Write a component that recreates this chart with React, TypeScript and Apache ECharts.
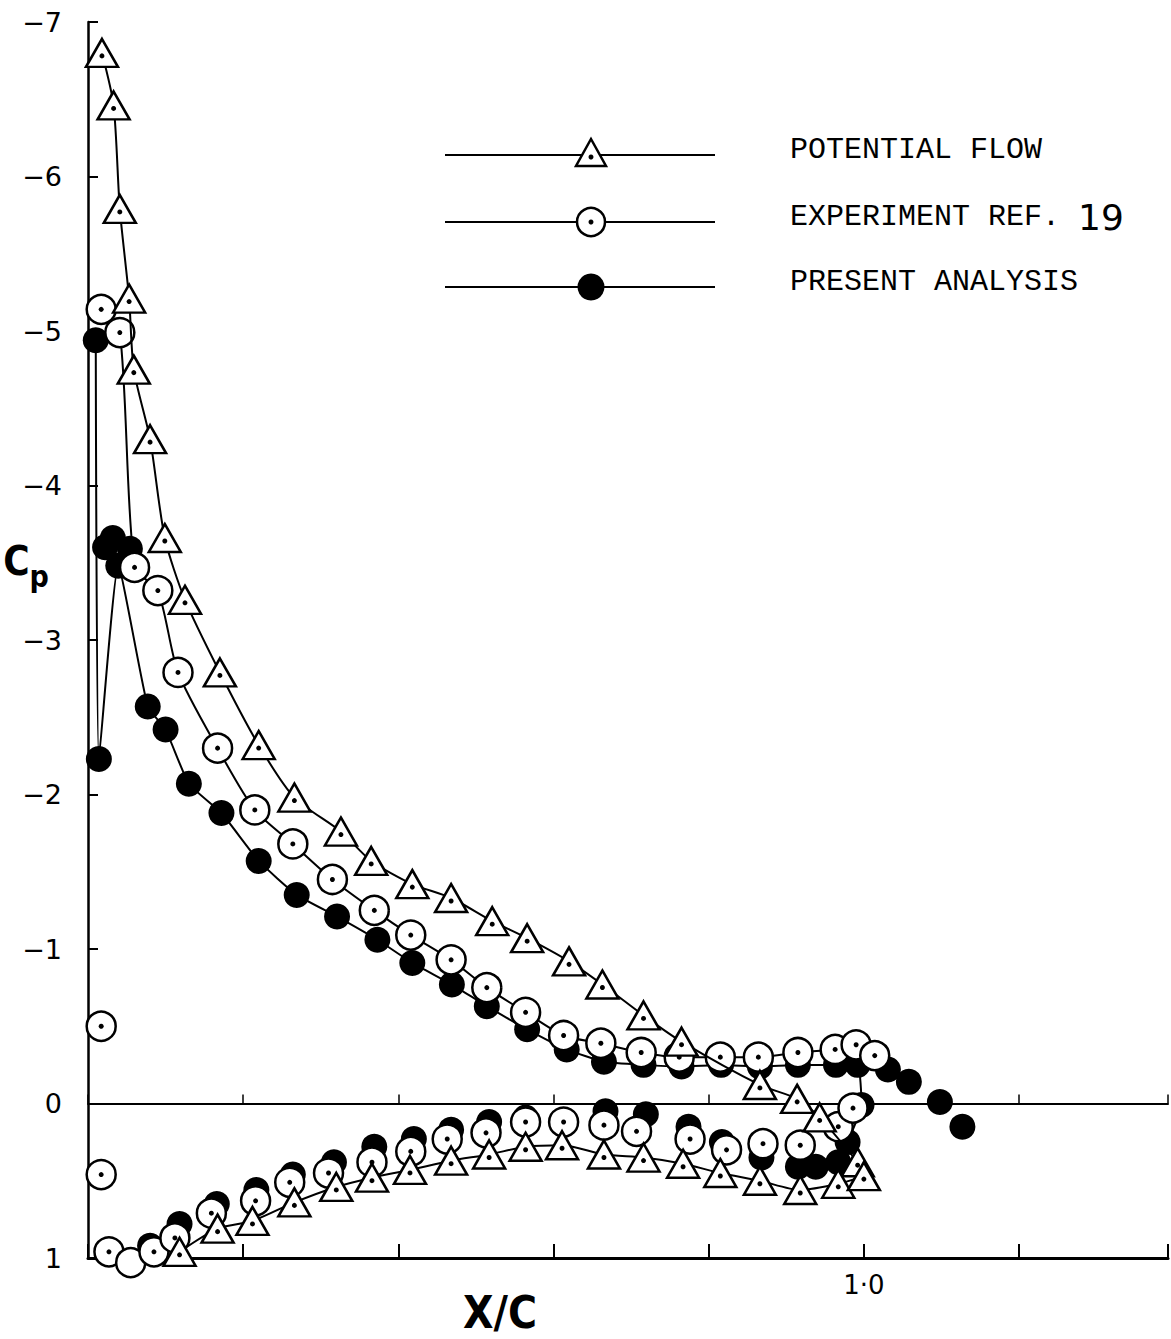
import React, { useEffect, useRef } from "react";
import * as echarts from "echarts";

// ---- data: [x/c, Cp] ----
const potentialUpper: number[][] = [
  [0.018, -6.8], [0.033, -6.46], [0.041, -5.79], [0.053, -5.21], [0.059, -4.75],
  [0.08, -4.3], [0.099, -3.66], [0.125, -3.26], [0.17, -2.79], [0.22, -2.32],
  [0.266, -1.98], [0.326, -1.76], [0.365, -1.57], [0.418, -1.42], [0.468, -1.33],
  [0.521, -1.18], [0.566, -1.07], [0.62, -0.92], [0.663, -0.77], [0.716, -0.57],
  [0.765, -0.4], [0.866, -0.12], [0.914, -0.03], [0.943, 0.09], [0.992, 0.38],
];
const potentialLower: number[][] = [
  [0.118, 0.96], [0.167, 0.81], [0.212, 0.76], [0.266, 0.64], [0.32, 0.54],
  [0.366, 0.48], [0.415, 0.43], [0.468, 0.37], [0.517, 0.33], [0.564, 0.28],
  [0.611, 0.27], [0.665, 0.33], [0.716, 0.35], [0.767, 0.39], [0.815, 0.45],
  [0.866, 0.5], [0.918, 0.56], [0.967, 0.52], [1.0, 0.47],
];
const experimentUpper: number[][] = [
  [0.017, -5.14], [0.041, -4.99], [0.06, -3.47], [0.09, -3.32], [0.116, -2.79],
  [0.167, -2.3], [0.215, -1.9], [0.264, -1.68], [0.315, -1.45], [0.369, -1.25],
  [0.416, -1.09], [0.468, -0.93], [0.514, -0.75], [0.564, -0.59], [0.613, -0.44],
  [0.661, -0.39], [0.713, -0.33], [0.762, -0.3], [0.815, -0.3], [0.864, -0.3],
  [0.915, -0.33], [0.963, -0.35], [0.99, -0.38], [1.014, -0.31],
];
const experimentLower: number[][] = [
  [0.017, -0.5], [0.017, 0.46], [0.027, 0.96], [0.055, 1.03], [0.085, 0.96],
  [0.112, 0.87], [0.159, 0.71], [0.216, 0.63], [0.26, 0.51], [0.31, 0.45],
  [0.366, 0.38], [0.416, 0.31], [0.463, 0.23], [0.513, 0.19], [0.564, 0.12],
  [0.613, 0.12], [0.665, 0.14], [0.707, 0.18], [0.776, 0.23], [0.823, 0.3],
  [0.87, 0.26], [0.918, 0.27], [0.967, 0.15], [0.986, 0.03],
];
const presentUpper: number[][] = [
  [0.01, -4.94], [0.014, -2.23], [0.039, -3.48], [0.077, -2.57], [0.1, -2.42],
  [0.13, -2.07], [0.172, -1.88], [0.22, -1.57], [0.269, -1.35], [0.321, -1.21],
  [0.373, -1.06], [0.418, -0.91], [0.469, -0.77], [0.514, -0.63], [0.566, -0.48],
  [0.617, -0.35], [0.665, -0.27], [0.716, -0.25], [0.765, -0.24], [0.816, -0.25],
  [0.866, -0.24], [0.915, -0.25], [0.964, -0.25], [0.992, -0.25], [0.997, 0.01],
  [0.979, 0.25], [0.967, 0.38],
];
const presentCluster: number[][] = [
  [0.022, -3.6], [0.032, -3.66], [0.054, -3.59],
];
const presentLower: number[][] = [
  [0.08, 0.92], [0.118, 0.78], [0.166, 0.65], [0.217, 0.56], [0.264, 0.46],
  [0.317, 0.38], [0.369, 0.28], [0.42, 0.23], [0.468, 0.17], [0.517, 0.12],
  [0.564, 0.09], [0.667, 0.05], [0.719, 0.07], [0.774, 0.15], [0.817, 0.25],
  [0.868, 0.35], [0.915, 0.41], [0.938, 0.41],
];
const presentWake: number[][] = [
  [1.031, -0.22], [1.058, -0.14], [1.098, -0.01], [1.127, 0.15],
];
const yTicks = [-7, -6, -5, -4, -3, -2, -1, 0, 1];
const legendNames = ["POTENTIAL FLOW", "EXPERIMENT REF. ", "PRESENT ANALYSIS"];
const legendRef = "19";

const W = 1171;
const H = 1339;

export default function App() {
  const ref = useRef<HTMLDivElement>(null);
  useEffect(() => {
    if (!ref.current) return;
    const chart = echarts.init(ref.current, undefined, { renderer: "svg" });
    const black = "#000";
    const tri = {
      symbol: "triangle",
      symbolSize: [32, 28],
      itemStyle: { color: "#fff", borderColor: black, borderWidth: 2.5, opacity: 1 },
    };
    const open = {
      symbol: "circle",
      symbolSize: 29,
      itemStyle: { color: "#fff", borderColor: black, borderWidth: 2.5, opacity: 1 },
    };
    const filled = {
      symbol: "circle",
      symbolSize: 26,
      itemStyle: { color: black, borderColor: black, borderWidth: 0, opacity: 1 },
    };
    const line = { color: black, width: 2 };
    const dot = (data: number[][], z: number, off = 0) => ({
      type: "scatter",
      data,
      symbol: "circle",
      symbolSize: 5,
      symbolOffset: [0, off],
      itemStyle: { color: black, opacity: 1 },
      z,
      clip: false,
      silent: true,
    });
    const legendY = [155, 222, 287];
    const lx1 = 445, lx2 = 715, lcx = 591;
    const legendGraphics: any[] = [];
    legendY.forEach((y) => {
      legendGraphics.push({
        type: "line",
        shape: { x1: lx1, y1: y, x2: lx2, y2: y },
        style: { stroke: black, lineWidth: 2 },
      });
    });
    legendGraphics.push(
      {
        type: "polygon",
        shape: { points: [[lcx, legendY[0] - 16], [lcx + 15, legendY[0] + 11], [lcx - 15, legendY[0] + 11]] },
        style: { fill: "#fff", stroke: black, lineWidth: 2.5 },
      },
      { type: "circle", shape: { cx: lcx, cy: legendY[0] + 2, r: 2.5 }, style: { fill: black } },
      { type: "circle", shape: { cx: lcx, cy: legendY[1], r: 14 }, style: { fill: "#fff", stroke: black, lineWidth: 2.5 } },
      { type: "circle", shape: { cx: lcx, cy: legendY[1], r: 2.5 }, style: { fill: black } },
      { type: "circle", shape: { cx: lcx, cy: legendY[2], r: 13.5 }, style: { fill: black } }
    );
    const textY = [150, 217, 282];
    legendNames.forEach((name, i) => {
      legendGraphics.push({
        type: "text",
        x: 790,
        y: textY[i],
        style: {
          text: i === 1 ? `{a|${name}}{b|${legendRef}}` : `{a|${name}}`,
          verticalAlign: "middle",
          rich: {
            a: { fontFamily: "Liberation Mono", fontSize: 30, fill: black, verticalAlign: "middle" },
            b: { fontFamily: "DejaVu Sans", fontSize: 36, fill: black, verticalAlign: "middle" },
          },
        },
      });
    });

    const option: any = {
      animation: false,
      backgroundColor: "#fff",
      grid: { left: 88, right: 2, top: 22, bottom: 81, containLabel: false },
      xAxis: [
        {
          type: "value",
          min: 0,
          max: 1.392,
          interval: 0.2,
          position: "bottom",
          axisLine: { show: true, onZero: false, lineStyle: { color: black, width: 3 } },
          axisTick: { show: true, inside: true, length: 14, lineStyle: { color: black, width: 2 } },
          axisLabel: {
            show: true,
            color: black,
            fontSize: 26,
            fontFamily: "DejaVu Sans",
            margin: 14,
            formatter: (v: number) => (Math.abs(v - 1) < 1e-6 ? "1·0" : ""),
          },
          splitLine: { show: false },
        },
        {
          type: "value",
          min: 0,
          max: 1.392,
          interval: 0.2,
          position: "bottom",
          axisLine: { show: true, onZero: true, onZeroAxisIndex: 0, lineStyle: { color: black, width: 2 } },
          axisTick: { show: true, inside: true, length: 9, lineStyle: { color: black, width: 1.5 } },
          axisLabel: { show: false },
          splitLine: { show: false },
        },
      ],
      yAxis: {
        type: "value",
        inverse: true,
        min: -7,
        max: 1,
        interval: 1,
        axisLine: { show: true, onZero: false, lineStyle: { color: black, width: 2.5 } },
        axisTick: { show: true, inside: true, length: 10, lineStyle: { color: black, width: 2 } },
        axisLabel: {
          color: black,
          fontSize: 27,
          fontFamily: "DejaVu Sans",
          margin: 26,
          formatter: (v: number) => (yTicks.includes(v) ? (v < 0 ? "−" + Math.abs(v) : String(v)) : ""),
        },
        splitLine: { show: false },
      },
      graphic: [
        ...legendGraphics,
        {
          type: "text",
          x: 500,
          y: 1312,
          style: {
            text: "X/C",
            fontFamily: "DejaVu Sans Condensed",
            fontWeight: "bold",
            fontSize: 44,
            fill: black,
            align: "center",
            verticalAlign: "middle",
          },
        },
        {
          type: "text",
          x: 26,
          y: 566,
          style: {
            text: "{c|C}{p|p}",
            align: "center",
            verticalAlign: "middle",
            rich: {
              c: { fontFamily: "DejaVu Sans Condensed", fontWeight: "bold", fontSize: 40, fill: black, verticalAlign: "top" },
              p: { fontFamily: "DejaVu Sans Condensed", fontWeight: "bold", fontSize: 30, fill: black, verticalAlign: "bottom", padding: [20, 0, 0, 0] },
            },
          },
        },
      ],
      series: [
        { type: "line", name: legendNames[2], data: presentUpper, ...filled, lineStyle: line, smooth: 0.15, z: 2, clip: false },
        { type: "scatter", name: legendNames[2], data: [...presentCluster, ...presentLower, ...presentWake], ...filled, z: 2, clip: false },
        { type: "line", name: legendNames[1], data: experimentUpper, ...open, lineStyle: line, smooth: 0.25, z: 3, clip: false },
        { type: "scatter", name: legendNames[1], data: experimentLower, ...open, z: 3, clip: false },
        dot(experimentUpper, 4),
        dot(experimentLower.filter((_, i) => i !== 3), 4),
        { type: "line", name: legendNames[0], data: potentialUpper, ...tri, lineStyle: line, smooth: 0.25, z: 5, clip: false },
        { type: "line", name: legendNames[0], data: potentialLower, ...tri, lineStyle: line, smooth: 0.25, z: 5, clip: false },
        dot(potentialUpper, 6, 3),
        dot(potentialLower, 6, 3),
      ],
    };
    chart.setOption(option);
    return () => chart.dispose();
  }, []);
  return (
    <div
      ref={ref}
      style={{ position: "absolute", left: 0, top: 0, width: W, height: H, background: "#fff" }}
    />
  );
}
